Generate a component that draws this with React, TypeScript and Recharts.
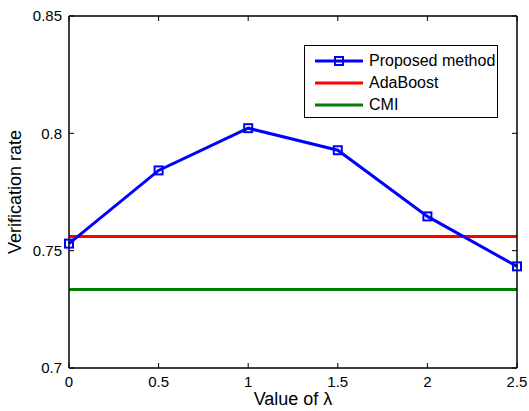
import React from "react";
import { ComposedChart, Line, XAxis, YAxis } from "recharts";

const lambdas = [0, 0.5, 1, 1.5, 2, 2.5];
const proposed = [0.753, 0.7842, 0.8022, 0.7928, 0.7646, 0.7433];
const adaboost = [0.756, 0.756, 0.756, 0.756, 0.756, 0.756];
const cmi = [0.7334, 0.7334, 0.7334, 0.7334, 0.7334, 0.7334];
const xTicks = [0, 0.5, 1, 1.5, 2, 2.5];
const yTicks = [0.7, 0.75, 0.8, 0.85];

const data = lambdas.map((l, i) => ({
  l,
  proposed: proposed[i],
  adaboost: adaboost[i],
  cmi: cmi[i],
}));

const FONT = "'Liberation Sans', Arial, Helvetica, sans-serif";

const Square = (props: any) => {
  const { cx, cy } = props;
  if (cx == null || cy == null) return null;
  return (
    <rect x={cx - 4} y={cy - 4} width={8} height={8} fill="none" stroke="#0000ff" strokeWidth={2} />
  );
};

const legendItems = [
  { name: "Proposed method", color: "#0000ff", marker: true },
  { name: "AdaBoost", color: "#ff0000", marker: false },
  { name: "CMI", color: "#008000", marker: false },
];

const LegendBox = () => (
  <div
    style={{
      position: "absolute",
      left: 304,
      top: 45,
      width: 194,
      height: 73,
      border: "1px solid #000",
      background: "#fff",
      fontFamily: FONT,
      fontSize: 16,
      boxSizing: "border-box",
    }}
  >
    {legendItems.map((it, i) => (
      <div key={it.name} style={{ position: "absolute", left: 9, top: 5 + i * 22, height: 20, display: "flex", alignItems: "center" }}>
        <svg width={50} height={20} style={{ display: "block" }}>
          <line x1={1} x2={49} y1={10} y2={10} stroke={it.color} strokeWidth={3} />
          {it.marker && <rect x={21} y={6} width={8} height={8} fill="none" stroke={it.color} strokeWidth={2} />}
        </svg>
        <span style={{ marginLeft: 5, color: "#000", whiteSpace: "nowrap" }}>{it.name}</span>
      </div>
    ))}
  </div>
);

const Empty = () => <g />;

export default function App() {
  const tickStyle = { fill: "#000", fontSize: 15, fontFamily: FONT };
  return (
    <div style={{ position: "absolute", left: 0, top: 0, width: 529, height: 411, background: "#fff" }}>
      <ComposedChart
        width={529}
        height={411}
        data={data}
        margin={{ top: 15, right: 11, bottom: 13, left: 24 }}
      >
        <XAxis
          xAxisId="b"
          dataKey="l"
          type="number"
          domain={[0, 2.5]}
          ticks={xTicks}
          tick={tickStyle}
          tickSize={-5}
          tickMargin={13}
          height={30}
          axisLine={{ stroke: "#000", strokeWidth: 1.5 }}
          tickLine={{ stroke: "#000" }}
          label={{ value: "Value of \u03bb", position: "insideBottom", offset: -7, style: { fill: "#000", fontSize: 18, fontFamily: FONT } }}
        />
        <XAxis
          xAxisId="t"
          orientation="top"
          dataKey="l"
          type="number"
          domain={[0, 2.5]}
          ticks={xTicks}
          tick={Empty}
          tickSize={-5}
          height={1}
          axisLine={{ stroke: "#000", strokeWidth: 1.5 }}
          tickLine={{ stroke: "#000" }}
        />
        <YAxis
          yAxisId="l"
          type="number"
          domain={[0.7, 0.85]}
          ticks={yTicks}
          tick={tickStyle}
          tickFormatter={(v: number) => String(Number(v.toFixed(2)))}
          tickSize={-5}
          tickMargin={12}
          width={45}
          axisLine={{ stroke: "#000", strokeWidth: 1.5 }}
          tickLine={{ stroke: "#000" }}
          label={{ value: "Verification rate", angle: -90, position: "insideLeft", offset: -9, style: { textAnchor: "middle", fill: "#000", fontSize: 18, fontFamily: FONT } }}
        />
        <YAxis
          yAxisId="r"
          orientation="right"
          type="number"
          domain={[0.7, 0.85]}
          ticks={yTicks}
          tick={Empty}
          tickSize={-5}
          width={1}
          axisLine={{ stroke: "#000", strokeWidth: 1.5 }}
          tickLine={{ stroke: "#000" }}
        />
        <Line xAxisId="b" yAxisId="l" dataKey="adaboost" stroke="#ff0000" strokeWidth={3} dot={false} isAnimationActive={false} />
        <Line xAxisId="b" yAxisId="l" dataKey="cmi" stroke="#008000" strokeWidth={3} dot={false} isAnimationActive={false} />
        <Line xAxisId="t" yAxisId="r" dataKey="proposed" stroke="#0000ff" strokeWidth={3} dot={<Square />} isAnimationActive={false} />
      </ComposedChart>
      <LegendBox />
    </div>
  );
}
